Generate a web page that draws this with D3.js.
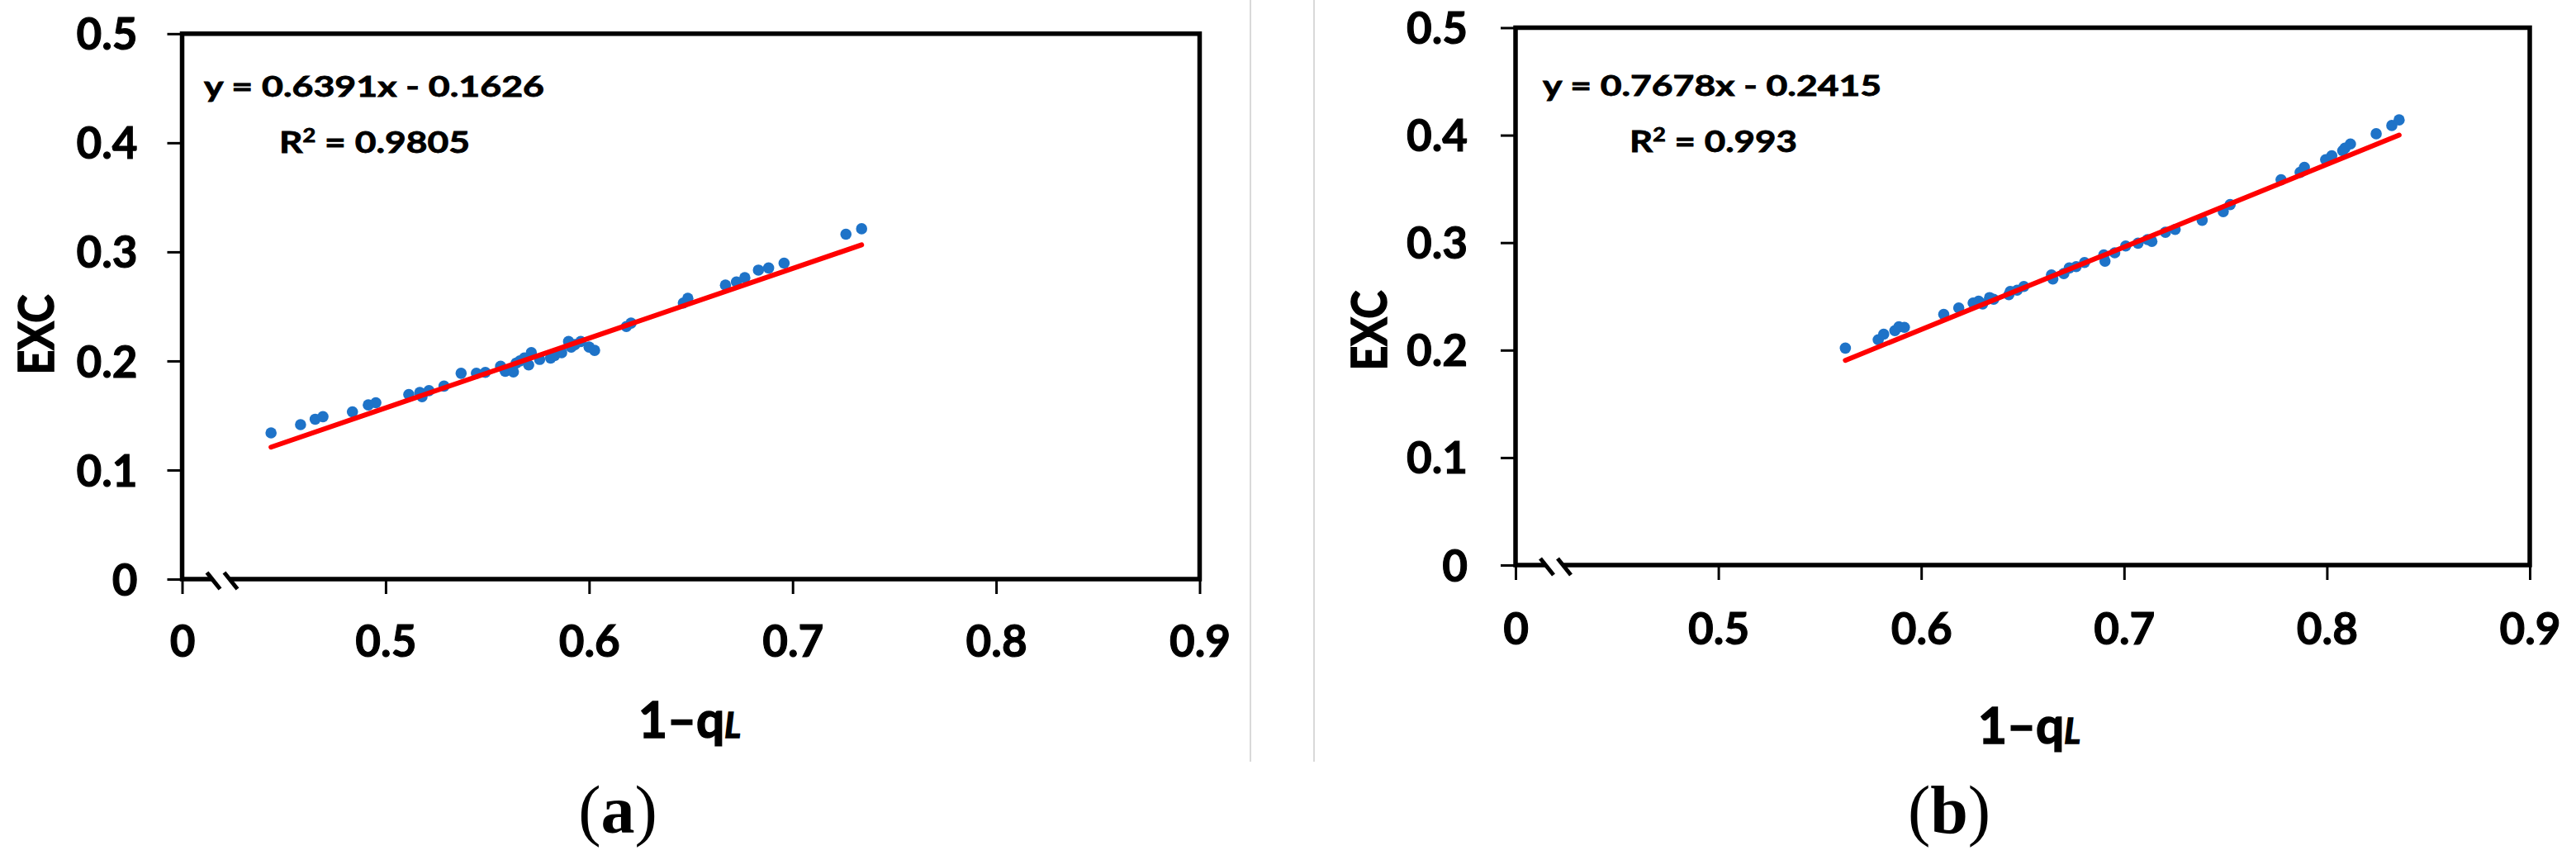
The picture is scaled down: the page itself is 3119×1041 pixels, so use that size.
<!DOCTYPE html>
<html>
<head>
<meta charset="utf-8">
<script src="https://cdn.jsdelivr.net/npm/d3@7"></script>
<style>
  body { margin: 0; background: #fff; }
  svg { display: block; }
  .bold { font-family: Lato, "Open Sans", sans-serif; font-weight: 700; fill: #000; stroke: #000; stroke-width: 1.1px; }
</style>
</head>
<body>
<div id="my_dataviz"></div>
<script>
// axis ticks (x axis is broken: the first tick sits at 0.4 but reads "0")
var xTickValues = [0.4, 0.5, 0.6, 0.7, 0.8, 0.9];
var xTickLabels = ['0', '0.5', '0.6', '0.7', '0.8', '0.9'];
var yTickValues = [0, 0.1, 0.2, 0.3, 0.4, 0.5];
var yTickLabels = ['0', '0.1', '0.2', '0.3', '0.4', '0.5'];

// panel (a)
var xA = [0.4437, 0.4582, 0.4654, 0.4692, 0.4837, 0.4915, 0.4952, 0.5114, 0.5168, 0.5179,
  0.5213, 0.5287, 0.5371, 0.5446, 0.5490, 0.5565, 0.5588, 0.5628, 0.5642, 0.5660, 0.5682,
  0.5703, 0.5716, 0.5757, 0.5811, 0.5830, 0.5865, 0.5899, 0.5912, 0.5930, 0.5959, 0.6000,
  0.6027, 0.6183, 0.6206, 0.6463, 0.6485, 0.6670, 0.6724, 0.6765, 0.6832, 0.6882, 0.6958,
  0.7262, 0.7339];
var yA = [0.1340, 0.1416, 0.1466, 0.1489, 0.1534, 0.1597, 0.1617, 0.1693, 0.1711, 0.1673,
  0.1728, 0.1769, 0.1887, 0.1887, 0.1895, 0.1951, 0.1905, 0.1900, 0.1981, 0.2000, 0.2027,
  0.1963, 0.2076, 0.2014, 0.2027, 0.2050, 0.2076, 0.2178, 0.2127, 0.2150, 0.2178, 0.2127,
  0.2097, 0.2316, 0.2347, 0.2531, 0.2574, 0.2695, 0.2725, 0.2763, 0.2833, 0.2852, 0.2897,
  0.3162, 0.3212];
var slopeA = 0.6391, interceptA = -0.1626;
var eqA = 'y = 0.6391x - 0.1626', r2A = '0.9805';

// panel (b)
var xB = [0.5626, 0.5788, 0.5815, 0.5870, 0.5890, 0.5917, 0.6111, 0.6185, 0.6256, 0.6283,
  0.6303, 0.6337, 0.6357, 0.6432, 0.6439, 0.6473, 0.6506, 0.6642, 0.6649, 0.6703, 0.6730,
  0.6764, 0.6805, 0.6906, 0.6900, 0.6954, 0.7008, 0.7069, 0.7116, 0.7137, 0.7204, 0.7252,
  0.7385, 0.7489, 0.7523, 0.7774, 0.7868, 0.7889, 0.7994, 0.8024, 0.8078, 0.8089, 0.8116,
  0.8243, 0.8320, 0.8356];
var yB = [0.2019, 0.2096, 0.2148, 0.2181, 0.2217, 0.2212, 0.2333, 0.2392, 0.2438, 0.2456,
  0.2430, 0.2489, 0.2473, 0.2515, 0.2546, 0.2558, 0.2592, 0.2700, 0.2661, 0.2712, 0.2764,
  0.2777, 0.2815, 0.2828, 0.2885, 0.2905, 0.2969, 0.2995, 0.3028, 0.3012, 0.3097, 0.3123,
  0.3208, 0.3289, 0.3354, 0.3585, 0.3654, 0.3701, 0.3772, 0.3808, 0.3855, 0.3880, 0.3918,
  0.4013, 0.4090, 0.4142];
var slopeB = 0.7678, interceptB = -0.2415;
var eqB = 'y = 0.7678x - 0.2415', r2B = '0.993';

var svg = d3.select('#my_dataviz')
  .append('svg')
  .attr('width', 3119)
  .attr('height', 1041)
  .style('background', '#fff');

// thin grey frame edges of the two sub-figures
svg.selectAll('line.sep')
  .data([1514, 1591])
  .enter()
  .append('line')
  .attr('class', 'sep')
  .attr('x1', d => d).attr('x2', d => d)
  .attr('y1', 0).attr('y2', 922)
  .style('stroke', '#d9d9d9')
  .style('stroke-width', 2);

function panel(p) {
  var g = svg.append('g');

  var x = d3.scaleLinear().domain([0.4, 0.9]).range([p.left, p.right]);
  var y = d3.scaleLinear().domain([0, 0.5]).range([p.bottom, p.top]);

  // plot frame
  g.append('rect')
    .attr('x', p.left).attr('y', p.top)
    .attr('width', p.right - p.left).attr('height', p.bottom - p.top)
    .style('fill', 'none')
    .style('stroke', '#000')
    .style('stroke-width', 5.5);

  // Add X axis
  var xAxis = g.append('g')
    .attr('transform', 'translate(0,' + p.bottom + ')')
    .call(d3.axisBottom(x)
      .tickValues(xTickValues)
      .tickFormat((d, i) => xTickLabels[i])
      .tickSizeInner(18).tickSizeOuter(0)
      .tickPadding(p.xPad));
  xAxis.select('.domain').remove();
  xAxis.selectAll('line').style('stroke', '#000').style('stroke-width', 3);
  xAxis.selectAll('text')
    .attr('class', 'bold')
    .style('font-size', '53px');

  // Add Y axis
  var yAxis = g.append('g')
    .attr('transform', 'translate(' + p.left + ',0)')
    .call(d3.axisLeft(y)
      .tickValues(yTickValues)
      .tickFormat((d, i) => yTickLabels[i])
      .tickSizeInner(18).tickSizeOuter(0)
      .tickPadding(p.yPad));
  yAxis.select('.domain').remove();
  yAxis.selectAll('line').style('stroke', '#000').style('stroke-width', 3);
  yAxis.selectAll('text')
    .attr('class', 'bold')
    .attr('dy', '0.36em')
    .style('font-size', '53px');

  // axis break marks next to the "0"
  var bx = x(0.4), by = y(0);
  g.append('polygon')
    .attr('points', [[bx + 30, by - 8], [bx + 51, by - 8], [bx + 67, by + 12], [bx + 46, by + 12]].join(' '))
    .style('fill', '#fff');
  g.selectAll('line.brk')
    .data([30, 51])
    .enter()
    .append('line')
    .attr('class', 'brk')
    .attr('x1', d => bx + d).attr('y1', by - 8)
    .attr('x2', d => bx + d + 16).attr('y2', by + 12)
    .style('stroke', '#000')
    .style('stroke-width', 5);

  // Add dots
  g.append('g')
    .selectAll('circle')
    .data(p.xs.map((v, i) => [v, p.ys[i]]))
    .enter()
    .append('circle')
    .attr('cx', d => x(d[0]))
    .attr('cy', d => y(d[1]))
    .attr('r', 6.8)
    .style('fill', '#1e73c8');

  // linear trend line over the data range
  var ext = d3.extent(p.xs);
  var line = d3.line().x(d => x(d)).y(d => y(p.slope * d + p.intercept));
  g.append('path')
    .datum(ext)
    .attr('d', line)
    .style('fill', 'none')
    .style('stroke', '#ff0000')
    .style('stroke-width', 6)
    .style('stroke-linecap', 'round');

  // equation and R²
  g.append('text')
    .attr('class', 'bold')
    .attr('x', p.eqX).attr('y', p.eqY)
    .attr('textLength', p.eqLen).attr('lengthAdjust', 'spacingAndGlyphs')
    .style('font-size', '34px')
    .style('stroke-width', '0.8px')
    .text(p.eq);
  var r2 = g.append('text')
    .attr('class', 'bold')
    .attr('x', p.r2X).attr('y', p.eqY + 68)
    .attr('textLength', p.r2Len).attr('lengthAdjust', 'spacingAndGlyphs')
    .style('font-size', '36px')
    .style('stroke-width', '0.8px');
  r2.append('tspan').text('R');
  r2.append('tspan').attr('dy', -13).style('font-size', '22px').text('2');
  r2.append('tspan').attr('dy', 13).text(' = ' + p.r2);

  // axis titles
  g.append('text')
    .attr('class', 'bold')
    .attr('transform', 'translate(' + p.yTitleX + ',' + p.yTitleY + ') rotate(-90)')
    .attr('text-anchor', 'middle')
    .attr('textLength', 97).attr('lengthAdjust', 'spacingAndGlyphs')
    .style('font-size', '60px')
    .style('stroke-width', '1.6px')
    .text('EXC');

  var xt = g.append('text')
    .attr('class', 'bold')
    .attr('x', p.xTitleX).attr('y', p.xTitleY)
    .attr('textLength', 124).attr('lengthAdjust', 'spacingAndGlyphs')
    .style('font-size', '62px')
    .style('stroke-width', '1.6px');
  xt.append('tspan').text('1–q');
  xt.append('tspan').style('font-style', 'italic').style('font-size', '42px').text('L');

  // sub-figure caption
  var cap = g.append('text')
    .attr('x', p.capX).attr('y', 1008)
    .attr('text-anchor', 'middle')
    .style('font-family', '"Liberation Serif", "Times New Roman", serif')
    .style('font-size', '82px');
  cap.append('tspan').text('(');
  cap.append('tspan').style('font-weight', 700).text(p.letter);
  cap.append('tspan').text(')');
}

panel({
  left: 220.5, right: 1452.5, top: 40.8, bottom: 701,
  xPad: 38, yPad: 36,
  xs: xA, ys: yA, slope: slopeA, intercept: interceptA,
  eq: eqA, r2: r2A, eqX: 247, eqY: 117, eqLen: 412, r2X: 338, r2Len: 231,
  yTitleX: 65, yTitleY: 405, xTitleX: 773, xTitleY: 893,
  capX: 748, letter: 'a'
});

panel({
  left: 1835, right: 3063, top: 33.5, bottom: 684,
  xPad: 40, yPad: 40,
  xs: xB, ys: yB, slope: slopeB, intercept: interceptB,
  eq: eqB, r2: r2B, eqX: 1868, eqY: 116, eqLen: 410, r2X: 1973, r2Len: 203,
  yTitleX: 1679, yTitleY: 400, xTitleX: 2395, xTitleY: 900,
  capX: 2360, letter: 'b'
});
</script>
</body>
</html>
